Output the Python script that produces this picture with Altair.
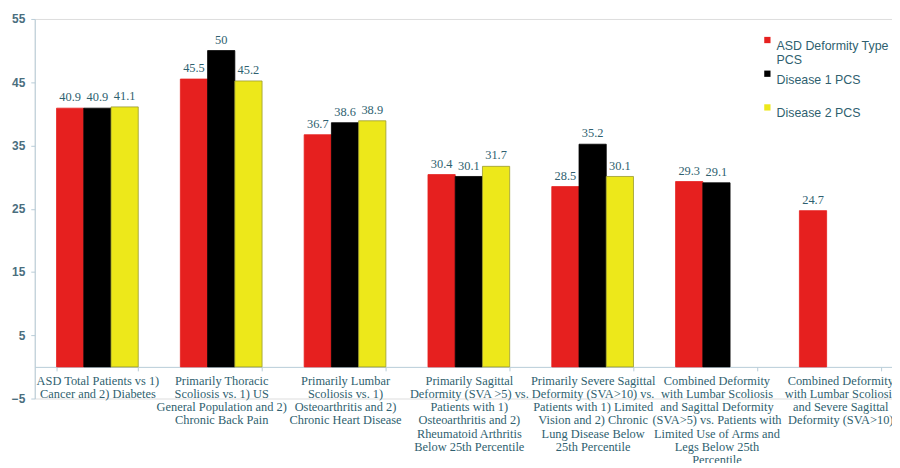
import altair as alt
import pandas as pd

categories = [
    "ASD Total Patients vs 1)|Cancer and 2) Diabetes",
    "Primarily Thoracic|Scoliosis vs. 1) US|General Population and 2)|Chronic Back Pain",
    "Primarily Lumbar|Scoliosis vs. 1)|Osteoarthritis and 2)|Chronic Heart Disease",
    "Primarily Sagittal|Deformity (SVA >5) vs.|Patients with 1)|Osteoarthritis and 2)|Rheumatoid Arthritis|Below 25th Percentile",
    "Primarily Severe Sagittal|Deformity (SVA>10) vs.|Patients with 1) Limited|Vision and 2) Chronic|Lung Disease  Below|25th Percentile",
    "Combined Deformity|with Lumbar Scoliosis|and Sagittal Deformity|(SVA>5) vs. Patients with|Limited Use of Arms and|Legs Below 25th|Percentile",
    "Combined Deformity|with Lumbar Scoliosis|and Severe Sagittal|Deformity (SVA>10)",
]
series = ["ASD Deformity Type PCS", "Disease 1 PCS", "Disease 2 PCS"]
asd_pcs = [40.9, 45.5, 36.7, 30.4, 28.5, 29.3, 24.7]
disease1_pcs = [40.9, 50, 38.6, 30.1, 35.2, 29.1, None]
disease2_pcs = [41.1, 45.2, 38.9, 31.7, 30.1, None, None]
y_ticks = [-5, 5, 15, 25, 35, 45, 55]
colors = ["#E6201F", "#000000", "#EDE81A"]
strokes = ["#E6201F", "#000000", "#9A9A30"]

rows = []
for i, c in enumerate(categories):
    for s, vals in zip(series, [asd_pcs, disease1_pcs, disease2_pcs]):
        v = vals[i]
        if v is not None:
            rows.append({"category": c, "series": s, "value": v, "label": f"{v:g}"})
df = pd.DataFrame(rows)

H = 383
W = 865
TEXT = "#2F5F6F"

xenc = alt.X(
    "category:N",
    sort=categories,
    scale=alt.Scale(domain=categories, range=[0, 876], paddingInner=0.34, paddingOuter=0.176),
    axis=alt.Axis(
        title=None,
        labelAngle=0,
        labelExpr="datum.value ? split(datum.value, '|') : ''",
        labelFont="Liberation Serif",
        labelFontSize=12.5,
        labelColor=TEXT,
        labelLineHeight=13.2,
        labelPadding=4,
        labelBaseline="top",
        labelLimit=0,
        offset=-(H * 5 / 60),
        domainColor="#B8CCD8",
        tickColor="#B8CCD8",
        tickBand="extent",
        tickSize=4,
        labelOverlap=False,
    ),
)

xoff = alt.XOffset("series:N", sort=series, scale=alt.Scale(domain=series, paddingInner=0, paddingOuter=0))

yenc = alt.Y(
    "value:Q",
    scale=alt.Scale(domain=[-5, 55], nice=False, zero=False),
    axis=alt.Axis(
        title=None,
        values=y_ticks,
        grid=False,
        labelFont="Liberation Sans",
        labelFontWeight="bold",
        labelFontSize=12,
        labelColor="#4A6E7E",
        domainColor="#B8CCD8",
        tickColor="#B8CCD8",
        tickSize=4,
        labelPadding=6,
    ),
)

bars = alt.Chart(df).mark_bar(strokeWidth=0.8).encode(
    x=xenc,
    xOffset=xoff,
    y=yenc,
    y2=alt.datum(0),
    color=alt.Color(
        "series:N",
        sort=series,
        scale=alt.Scale(domain=series, range=colors),
        legend=alt.Legend(
            title=None,
            orient="none",
            legendX=733,
            legendY=15,
            symbolType="square",
            symbolSize=40,
            symbolStrokeWidth=0,
            labelFont="Liberation Sans",
            labelFontSize=12.5,
            labelColor=TEXT,
            labelExpr="datum.label == 'ASD Deformity Type PCS' ? ['ASD Deformity Type', 'PCS'] : datum.label",
            labelBaseline="top",
            labelOffset=3,
            gridAlign="all",
            rowPadding=0,
        ),
    ),
    stroke=alt.Stroke("series:N", sort=series, scale=alt.Scale(domain=series, range=strokes), legend=None),
)

labels = alt.Chart(df).mark_text(
    baseline="bottom", dy=-4, font="Liberation Serif", fontSize=12.5, color=TEXT
).encode(
    x=alt.X("category:N", sort=categories),
    xOffset=alt.XOffset("series:N", sort=series),
    y=alt.Y("value:Q"),
    text="label:N",
)

chart = (
    alt.layer(bars, labels)
    .properties(width=W, height=H, autosize=alt.AutoSizeParams(type="none"),
                padding={"left": 27, "top": 9, "right": 0, "bottom": 63})
    .configure_view(stroke=None)
    .configure(background="white")
)

chart.save("out.html", embed_options={"renderer": "svg", "actions": False})
